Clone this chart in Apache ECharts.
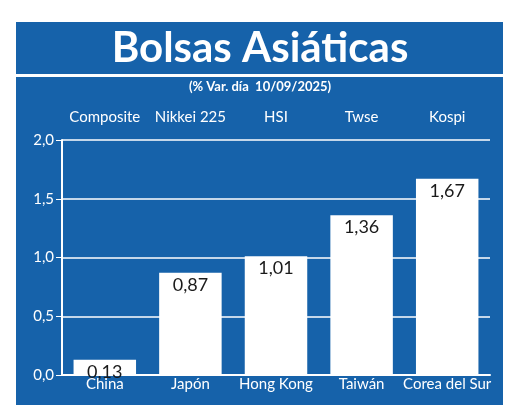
<!DOCTYPE html><html><head><meta charset="utf-8"><script src="https://cdn.jsdelivr.net/npm/echarts@6/dist/echarts.min.js"></script></head><body style="margin:0;background:#fff"><div id="c" style="width:520px;height:417px"></div><script>
const countries=['China','Japón','Hong Kong','Taiwán','Corea del Sur'];
const indices=['Composite','Nikkei 225','HSI','Twse','Kospi'];
const values=[0.13,0.87,1.01,1.36,1.67];
const ch=echarts.init(document.getElementById('c'));
const fam='Lato, "Noto Sans", sans-serif';
ch.setOption({
backgroundColor:'#fff',
graphic:[
{type:'rect',shape:{x:16,y:22,width:487,height:383},style:{fill:'#1662aa'},z:-10},
{type:'rect',shape:{x:16,y:74,width:487,height:3},style:{fill:'#fff'},z:-9},
{type:'text',left:'center',top:27,style:{text:'Bolsas Asiáticas',fill:'#fff',font:'bold 42px Lato, sans-serif'}},
{type:'text',left:'center',top:80,style:{text:'(% Var. día  10/09/2025)',fill:'#fff',font:'bold 13px Lato, sans-serif'}}
],
grid:{left:62,right:30,top:140,bottom:42},
xAxis:[{type:'category',data:countries,axisLine:{show:true,lineStyle:{color:'#fff',width:2}},axisTick:{show:false},axisLabel:{interval:0,color:'#fff',fontSize:15,margin:2,fontFamily:fam}},
{type:'category',position:'top',data:indices,axisLine:{show:false},axisTick:{show:false},axisLabel:{interval:0,color:'#fff',fontSize:15,margin:15,fontFamily:fam}}],
yAxis:{type:'value',min:0,max:2,interval:0.5,axisLine:{show:true,lineStyle:{color:'#fff',width:2}},axisTick:{show:true,length:6,lineStyle:{color:'#fff'}},
splitLine:{lineStyle:{color:'#fff',width:1.5}},axisLabel:{color:'#fff',fontSize:15,fontFamily:fam,formatter:v=>v.toFixed(1).replace('.',',')}},
series:[{type:'bar',data:values,barWidth:'73%',itemStyle:{color:'#fff'},
label:{show:true,position:'insideTop',distance:3,color:'#1a1a1a',fontSize:18,fontFamily:fam,formatter:p=>p.value.toFixed(2).replace('.',',')}}]
});
</script></body></html>
